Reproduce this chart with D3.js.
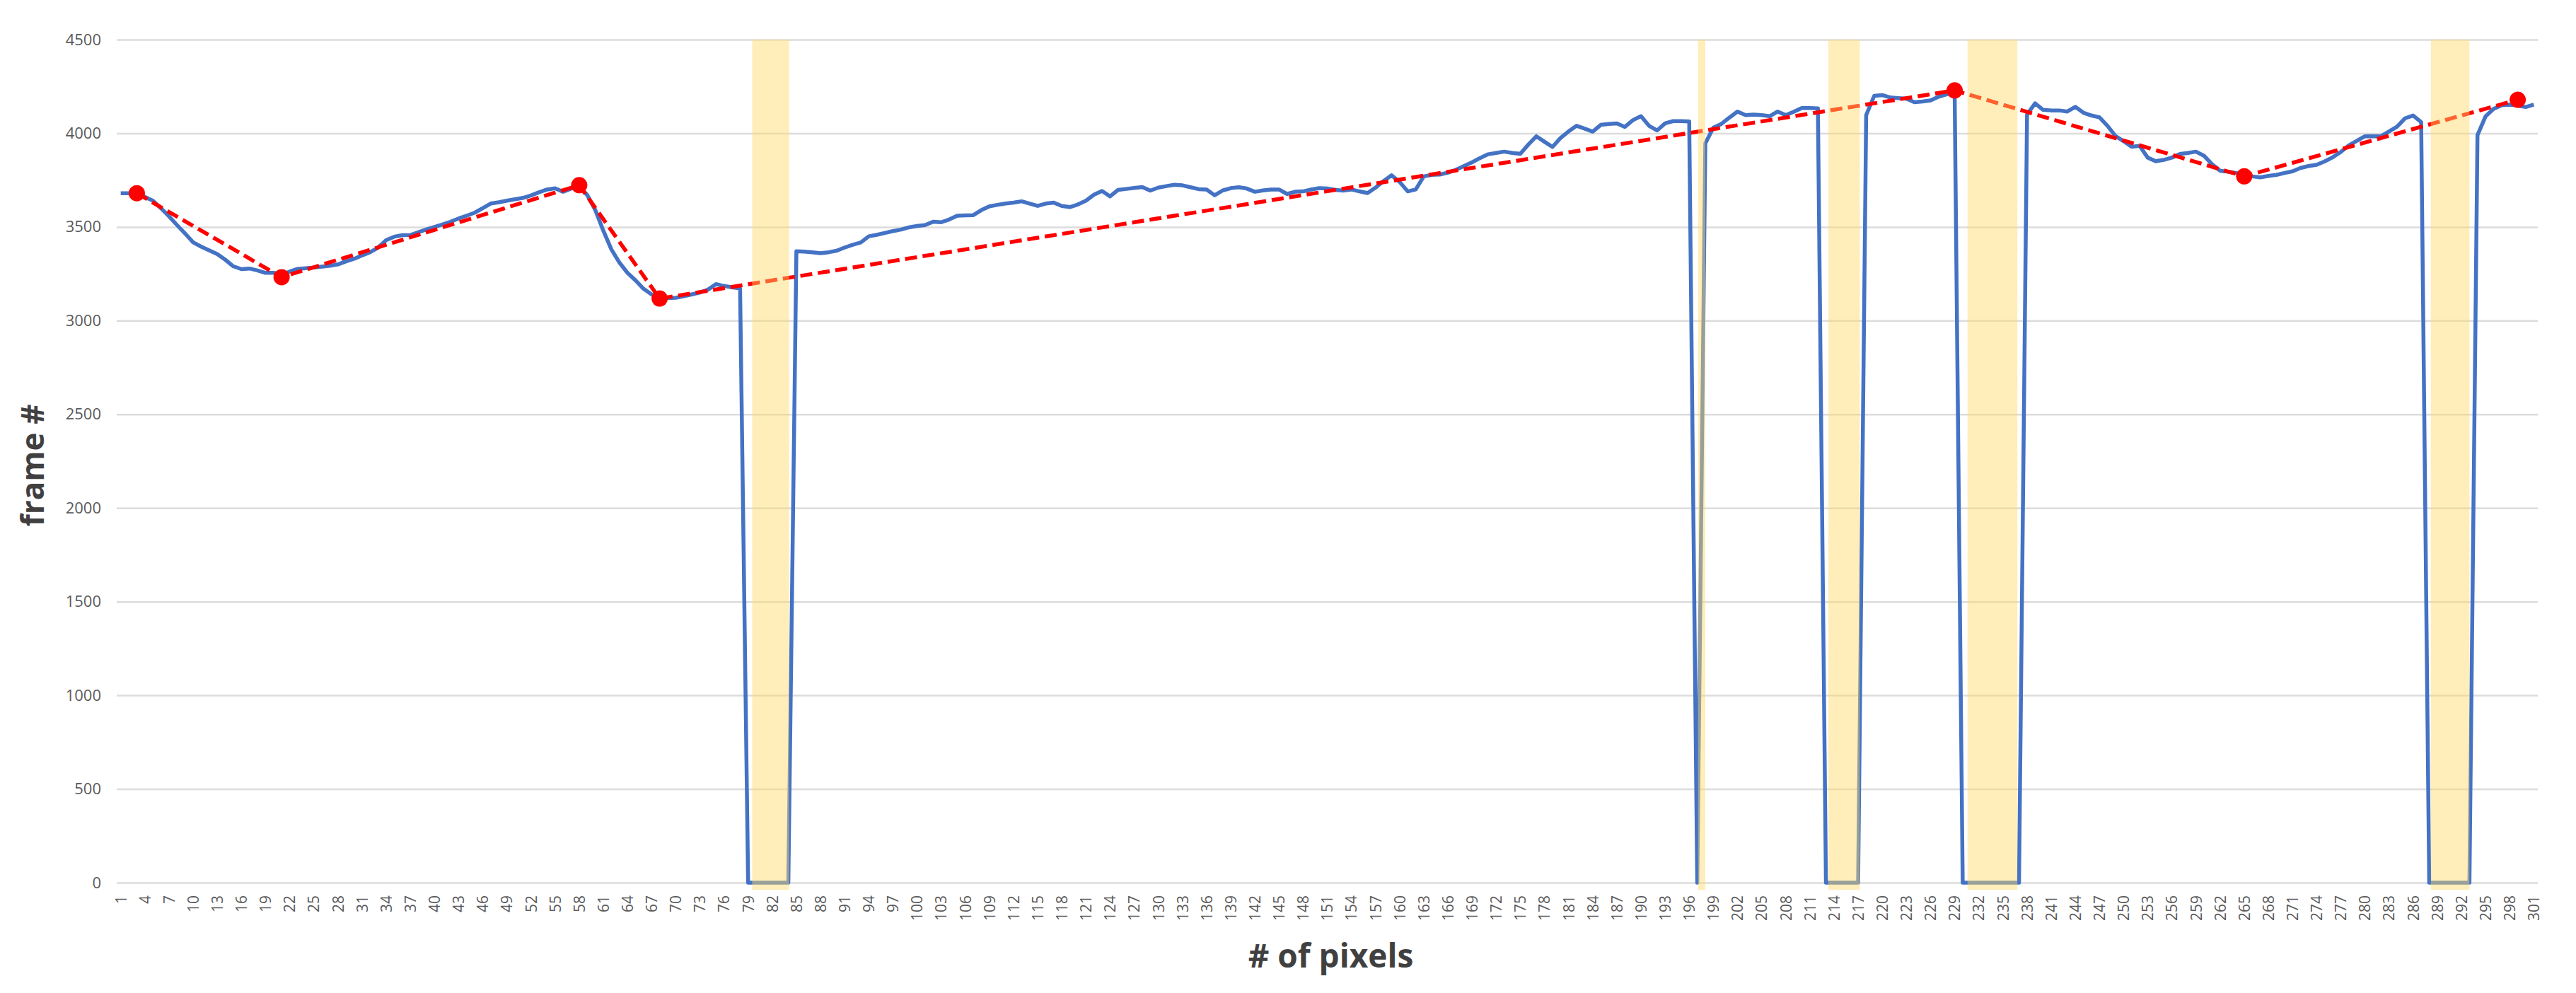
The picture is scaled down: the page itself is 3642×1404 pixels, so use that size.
<!DOCTYPE html>
<html><head><meta charset="utf-8">
<script src="https://cdn.jsdelivr.net/npm/d3@7"></script>
<style>html,body{margin:0;background:#fff;} svg{display:block;}</style>
</head><body>
<script>
// ---------- data ----------
const categories = d3.range(1, 302); // "# of pixels" 1..301
const frameValues = [
  3680,3680,3672,3660,3640,3600,3557,3510,3465,3418,
  3395,3375,3355,3325,3290,3275,3278,3268,3255,3255,
  3245,3262,3276,3280,3283,3288,3293,3300,3316,3330,
  3348,3365,3390,3430,3448,3456,3457,3472,3487,3500,
  3513,3528,3545,3560,3576,3600,3625,3632,3640,3648,
  3655,3668,3685,3700,3706,3688,3705,3718,3670,3590,
  3480,3380,3310,3255,3215,3170,3140,3121,3120,3122,
  3130,3140,3150,3165,3195,3185,3178,3172,0,0,
  0,0,0,0,3370,3368,3365,3360,3365,3373,
  3390,3405,3417,3450,3458,3468,3478,3486,3498,3505,
  3510,3528,3525,3540,3560,3562,3563,3590,3610,3618,
  3625,3630,3637,3625,3612,3625,3630,3612,3606,3620,
  3640,3672,3692,3663,3698,3703,3708,3713,3694,3710,
  3718,3725,3722,3712,3702,3700,3669,3695,3707,3712,
  3705,3688,3695,3700,3700,3676,3688,3690,3700,3707,
  3705,3698,3694,3700,3690,3681,3710,3745,3776,3740,
  3690,3700,3770,3778,3780,3790,3805,3825,3845,3868,
  3888,3895,3902,3895,3890,3940,3984,3955,3927,3975,
  4010,4040,4025,4009,4045,4050,4053,4034,4070,4091,
  4040,4015,4053,4065,4065,4063,0,3946,4030,4050,
  4084,4116,4097,4100,4097,4091,4116,4097,4115,4135,
  4135,4133,0,0,0,0,0,4097,4200,4204,
  4191,4188,4185,4166,4170,4175,4195,4208,4218,0,
  0,0,0,0,0,0,0,4100,4160,4125,
  4122,4122,4116,4141,4110,4095,4085,4040,3985,3958,
  3928,3933,3870,3851,3858,3870,3889,3895,3902,3880,
  3835,3800,3795,3788,3778,3770,3765,3772,3778,3788,
  3797,3815,3825,3832,3850,3872,3900,3935,3960,3984,
  3985,3984,4010,4035,4080,4095,4060,0,0,0,
  0,0,0,3990,4090,4130,4150,4153,4148,4140,
  4153
];
const keyPixels = [3, 21, 58, 68, 229, 265, 299];
const keyFrames = [3680, 3232, 3723, 3118, 4229, 3770, 4179];
const gapStarts = [79.5, 197.1, 213.3, 230.6, 288.2];
const gapEnds   = [84.1, 198.0, 217.2, 236.8, 293.0];
const yTicks = [0, 500, 1000, 1500, 2000, 2500, 3000, 3500, 4000, 4500];
const xTickLabels = categories.filter((d, i) => i % 3 === 0);
const xTitle = "# of pixels";
const yTitle = "frame #";

// ---------- layout ----------
const W = 3642, H = 1404;
const pLeft = 165, pRight = 3588, pTop = 56, pBottom = 1248;
const font = "'Open Sans', 'DejaVu Sans', sans-serif";

const svg = d3.select("body").append("svg").attr("width", W).attr("height", H);

const x = d3.scalePoint().domain(categories).range([pLeft, pRight]).padding(0.5);
const xl = d3.scaleLinear().domain([1, 301]).range([x(1), x(301)]);
const y = d3.scaleLinear().domain([0, 4500]).range([pBottom, pTop]);

// y axis + gridlines
const gy = svg.append("g").attr("transform", `translate(${pLeft},0)`)
  .call(d3.axisLeft(y).tickValues(yTicks).tickSize(-(pRight - pLeft)).tickPadding(22).tickFormat(d3.format("d")));
gy.select(".domain").remove();
gy.selectAll(".tick line").attr("stroke", "#dcdcdc").attr("stroke-width", 2.5);
gy.selectAll(".tick text").attr("fill", "#5a5a5a").style("font-family", font).style("font-size", "22px");

// x axis labels
const gx = svg.append("g").attr("transform", `translate(0,${pBottom})`)
  .call(d3.axisBottom(x).tickValues(xTickLabels).tickSize(0));
gx.select(".domain").remove();
gx.selectAll(".tick text")
  .attr("transform", "rotate(-90)")
  .attr("x", -18).attr("y", 0).attr("dy", "0.35em")
  .style("text-anchor", "end")
  .attr("fill", "#5a5a5a").style("font-family", font).style("font-size", "21px");

// blue line
const line = d3.line().x((d, i) => xl(categories[i])).y(d => y(d));
svg.append("path").datum(frameValues)
  .attr("fill", "none").attr("stroke", "#4472C4").attr("stroke-width", 5.5)
  .attr("stroke-linejoin", "round").attr("d", line);

// red dashed trend through key points
const keyData = keyPixels.map((p, i) => ({p, v: keyFrames[i]}));
svg.append("path").datum(keyData)
  .attr("fill", "none").attr("stroke", "#ff0000").attr("stroke-width", 5.5)
  .attr("stroke-dasharray", "17,8")
  .attr("d", d3.line().x(d => xl(d.p)).y(d => y(d.v)));
svg.selectAll("circle.key").data(keyData).enter().append("circle")
  .attr("class", "key").attr("cx", d => xl(d.p)).attr("cy", d => y(d.v))
  .attr("r", 11.5).attr("fill", "#ff0000");

// gap bands (semi-transparent overlay)
svg.selectAll("rect.gap").data(gapStarts.map((s, i) => [s, gapEnds[i]])).enter().append("rect")
  .attr("class", "gap")
  .attr("x", d => xl(d[0])).attr("width", d => xl(d[1]) - xl(d[0]))
  .attr("y", y(4500)).attr("height", y(0) - y(4500) + 10)
  .attr("fill", "#FFD966").attr("fill-opacity", 0.45);

// titles
svg.append("text").attr("x", (pLeft + pRight) / 2 + 5).attr("y", 1368)
  .attr("text-anchor", "middle").attr("fill", "#404040")
  .style("font-family", font).style("font-size", "46px").style("font-weight", "bold")
  .text(xTitle);
svg.append("text").attr("transform", "translate(62,658) rotate(-90)")
  .attr("text-anchor", "middle").attr("fill", "#404040")
  .style("font-family", font).style("font-size", "44px").style("font-weight", "bold")
  .text(yTitle);
</script>
</body></html>
